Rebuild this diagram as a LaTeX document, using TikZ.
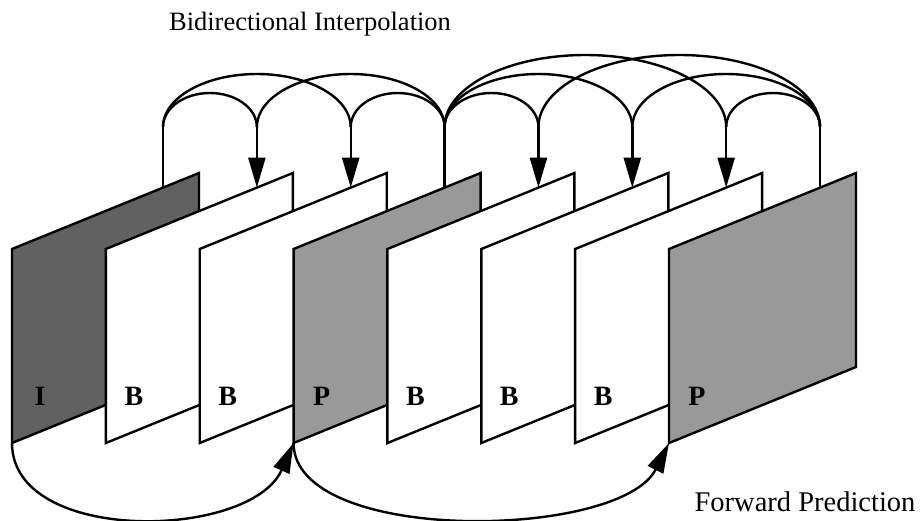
\documentclass[tikz,border=0pt]{standalone}
\usepackage{fontspec}
\setmainfont{Liberation Serif}
\usetikzlibrary{arrows.meta}
\begin{document}
\begin{tikzpicture}[x=1pt,y=-1pt,
  frame/.style={draw=black, line width=2.4pt, line join=miter},
  ifill/.style={fill=black!62},
  pfill/.style={fill=black!40},
  bfill/.style={fill=white},
  link/.style={line width=2.4pt},
  tipped/.style={-{Triangle[length=30pt,width=17pt]}},
  lbl/.style={font=\fontsize{28}{28}\selectfont\bfseries, inner sep=0pt},
  titletext/.style={font=\fontsize{26.5}{26.5}\selectfont, inner sep=0pt},
  fwdtext/.style={font=\fontsize{28.5}{28.5}\selectfont, inner sep=0pt}]
\useasboundingbox (0,0) rectangle (920,520);
\foreach \i/\s/\t in {0/ifill/I,1/bfill/B,2/bfill/B,3/pfill/P,4/bfill/B,5/bfill/B,6/bfill/B,7/pfill/P}{
  \pgfmathsetmacro\L{12+93.86*\i}
  \draw[frame,\s] (\L,443) -- (\L,249) -- (\L+187,173) -- (\L+187,367) -- cycle;
  \coordinate (f\i-bl) at (\L,443);
  \coordinate (f\i-top) at (\L+151,187.6);
  \coordinate (f\i-up) at (\L+151,127);
  \node[lbl] (l\i) at (\L+28,396) {\t};
}
% source verticals
\foreach \i in {0,3,7}{ \draw[link] (f\i-top) -- (f\i-up); }
% target arrows
\foreach \i in {1,2,4,5,6}{ \draw[link,tipped] (f\i-up) -- (f\i-top); }
% bidirectional arcs, left group
\draw[link] (f0-up) arc[start angle=180,end angle=360,x radius=46.93,y radius=34];
\draw[link] (f0-up) arc[start angle=180,end angle=360,x radius=93.86,y radius=53];
\draw[link] (f3-up) arc[start angle=0,end angle=-180,x radius=93.86,y radius=53];
\draw[link] (f3-up) arc[start angle=0,end angle=-180,x radius=46.93,y radius=34];
% right group
\draw[link] (f3-up) arc[start angle=180,end angle=360,x radius=46.93,y radius=34];
\draw[link] (f3-up) arc[start angle=180,end angle=360,x radius=93.86,y radius=53];
\draw[link] (f3-up) arc[start angle=180,end angle=360,x radius=140.79,y radius=72];
\draw[link] (f7-up) arc[start angle=0,end angle=-180,x radius=46.93,y radius=34];
\draw[link] (f7-up) arc[start angle=0,end angle=-180,x radius=93.86,y radius=53];
\draw[link] (f7-up) arc[start angle=0,end angle=-180,x radius=140.79,y radius=72];
% forward prediction
\draw[link,tipped] (f0-bl) .. controls +(0,102) and +(-43,97) .. (f3-bl);
\draw[link,tipped] (f3-bl) .. controls +(0,102) and +(-49,97) .. (f7-bl);
% captions
\node[titletext,anchor=base] (title) at (310,30) {Bidirectional Interpolation};
\node[fwdtext,anchor=base] (fwd) at (805,511) {Forward Prediction};
\end{tikzpicture}
\end{document}
